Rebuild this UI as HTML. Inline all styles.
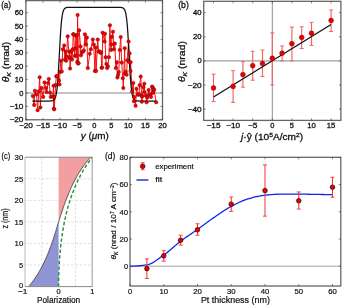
<!DOCTYPE html>
<html><head><meta charset="utf-8"><style>
html,body{margin:0;padding:0;background:#fff;}
body{width:342px;height:305px;overflow:hidden;}
svg{display:block;font-family:"Liberation Sans", sans-serif;will-change:transform;}
text{stroke:#111;stroke-width:0.28px;}
.cd text{stroke-width:0.2px;}
</style></head><body>
<svg width="342" height="305" viewBox="0 0 342 305">
<rect width="342" height="305" fill="#fff"/>
<line x1="25.9" y1="93" x2="162.5" y2="93" stroke="#8a8a8a" stroke-width="1.1"/>
<path d="M32.8,95.95 L34.2,105.05 L34.92,90.72 L36.49,94.47 L37.61,110.14 L38.88,91.26 L39.7,77.2 L40.41,107.46 L41.4,87.91 L43.21,96.88 L44.51,82.42 L45.91,87.91 L46.59,92.06 L48.1,83.09 L48.78,78.94 L50.15,92.73 L50.83,96.88 L52.88,96.21 L53.56,85.77 L53.9,108.67 L53.9,97.15 L54.24,109.34 L55.61,84.97 L56.29,76.26 L56.98,76.13 L59.03,80.55 L59.5,84.43 L59.88,72.11 L60.9,60.73 L61.76,71.58 L62.78,49.35 L64.22,45.47 L64.83,59.79 L65.86,51.49 L66.2,60.73 L66.54,56.45 L67.7,36.36 L69.27,57.92 L69.61,51.49 L69.71,57.25 L70.09,68.5 L71.32,51.49 L72,59.52 L72.69,49.35 L73.2,34.35 L73.71,34.35 L74.73,56.04 L75.21,48.55 L76,35.69 L76.44,55.51 L77.12,34.75 L77.19,61.94 L77.6,14.94 L78.01,63.54 L78.59,63.14 L79.17,30.33 L80.54,46.54 L80.98,55.37 L81.91,52.03 L82.93,51.76 L83.89,50.42 L84.91,34.35 L85.9,44.53 L86.89,37.57 L87.81,68.09 L89.76,53.77 L90.82,49.35 L92.8,39.57 L93.72,44.53 L94.88,71.04 L95.7,47.47 L96.11,71.04 L97.72,39.57 L98.64,51.49 L99.66,51.49 L100.59,52.83 L101.2,52.43 L101.61,67.83 L102.19,67.56 L102.6,32.75 L104.62,41.58 L104.99,33.68 L105.61,57.25 L106.39,63.94 L107.11,68.09 L107.86,66.35 L108.88,57.25 L109.91,25.25 L110.9,50.02 L111.51,44.53 L111.89,36.76 L112.91,31.67 L113.8,49.35 L114.83,43.46 L115.82,68.09 L116.81,62.2 L117.42,77.6 L118.1,75.06 L118.79,72.11 L119.71,50.02 L120.7,37.03 L121.69,62.6 L122.72,78.27 L123.3,88.05 L124.7,48.14 L124.94,73.72 L125.69,71.71 L126.64,74.66 L127.19,60.33 L128.59,41.58 L129.2,61.94 L129.61,53.37 L130.5,71.04 L130.6,62.2 L132.11,91.39 L133.23,82.96 L133.92,101.17 L134.16,96.88 L135.59,105.85 L136.48,88.72 L137.91,94.87 L139,94.21 L139.69,85.23 L140.71,76.53 L141.67,96.35 L141.81,101.7 L142.49,96.21 L143.38,87.24 L144.3,83.76 L144.47,92.06 L145.9,95.54 L146.59,102.37 L147.3,97.55 L148.67,90.05 L149.39,94.87 L150.55,94.34 L151.09,96.88 L152.08,86.57 L152.6,87.38 L152.8,92.87 L153.48,88.72 L154.2,90.05 L156.18,102.24" fill="none" stroke="#f80808" stroke-width="0.95"/>
<path d="M32.39,101.03 L32.54,101.03 L32.7,101.03 L32.85,101.03 L33.01,101.03 L33.16,101.03 L33.32,101.03 L33.47,101.03 L33.62,101.03 L33.78,101.03 L33.93,101.03 L34.09,101.03 L34.24,101.03 L34.4,101.03 L34.55,101.03 L34.71,101.03 L34.86,101.03 L35.02,101.03 L35.17,101.03 L35.32,101.03 L35.48,101.03 L35.63,101.03 L35.79,101.03 L35.94,101.03 L36.1,101.03 L36.25,101.03 L36.41,101.03 L36.56,101.03 L36.72,101.03 L36.87,101.03 L37.02,101.03 L37.18,101.03 L37.33,101.03 L37.49,101.03 L37.64,101.03 L37.8,101.03 L37.95,101.03 L38.11,101.03 L38.26,101.03 L38.42,101.03 L38.57,101.03 L38.72,101.03 L38.88,101.03 L39.03,101.03 L39.19,101.03 L39.34,101.03 L39.5,101.03 L39.65,101.03 L39.81,101.03 L39.96,101.03 L40.11,101.03 L40.27,101.03 L40.42,101.03 L40.58,101.03 L40.73,101.03 L40.89,101.03 L41.04,101.03 L41.2,101.03 L41.35,101.03 L41.51,101.03 L41.66,101.03 L41.81,101.03 L41.97,101.03 L42.12,101.03 L42.28,101.03 L42.43,101.03 L42.59,101.03 L42.74,101.03 L42.9,101.03 L43.05,101.03 L43.21,101.03 L43.36,101.03 L43.51,101.03 L43.67,101.03 L43.82,101.03 L43.98,101.03 L44.13,101.03 L44.29,101.03 L44.44,101.03 L44.6,101.03 L44.75,101.03 L44.91,101.03 L45.06,101.03 L45.21,101.03 L45.37,101.03 L45.52,101.03 L45.68,101.03 L45.83,101.03 L45.99,101.03 L46.14,101.03 L46.3,101.03 L46.45,101.03 L46.61,101.03 L46.76,101.03 L46.91,101.03 L47.07,101.03 L47.22,101.03 L47.38,101.03 L47.53,101.03 L47.69,101.03 L47.84,101.03 L48,101.02 L48.15,101.02 L48.3,101.02 L48.46,101.02 L48.61,101.02 L48.77,101.02 L48.92,101.01 L49.08,101.01 L49.23,101.01 L49.39,101.01 L49.54,101 L49.7,101 L49.85,100.99 L50,100.99 L50.16,100.98 L50.31,100.97 L50.47,100.97 L50.62,100.96 L50.78,100.95 L50.93,100.94 L51.09,100.92 L51.24,100.91 L51.4,100.89 L51.55,100.87 L51.7,100.85 L51.86,100.83 L52.01,100.8 L52.17,100.77 L52.32,100.73 L52.48,100.69 L52.63,100.64 L52.79,100.59 L52.94,100.53 L53.1,100.47 L53.25,100.39 L53.4,100.31 L53.56,100.21 L53.71,100.1 L53.87,99.98 L54.02,99.84 L54.18,99.68 L54.33,99.5 L54.49,99.3 L54.64,99.07 L54.8,98.81 L54.95,98.52 L55.1,98.2 L55.26,97.83 L55.41,97.42 L55.57,96.96 L55.72,96.44 L55.88,95.85 L56.03,95.2 L56.19,94.48 L56.34,93.67 L56.49,92.77 L56.65,91.77 L56.8,90.67 L56.96,89.45 L57.11,88.11 L57.27,86.65 L57.42,85.05 L57.58,83.32 L57.73,81.44 L57.89,79.42 L58.04,77.26 L58.19,74.96 L58.35,72.53 L58.5,69.98 L58.66,67.31 L58.81,64.55 L58.97,61.72 L59.12,58.82 L59.28,55.89 L59.43,52.95 L59.59,50.01 L59.74,47.11 L59.89,44.26 L60.05,41.49 L60.2,38.81 L60.36,36.24 L60.51,33.79 L60.67,31.46 L60.82,29.28 L60.98,27.24 L61.13,25.33 L61.29,23.57 L61.44,21.95 L61.59,20.47 L61.75,19.11 L61.9,17.87 L62.06,16.75 L62.21,15.73 L62.37,14.82 L62.52,13.99 L62.68,13.25 L62.83,12.59 L62.99,12 L63.14,11.47 L63.29,10.99 L63.45,10.57 L63.6,10.2 L63.76,9.87 L63.91,9.57 L64.07,9.31 L64.22,9.08 L64.38,8.87 L64.53,8.69 L64.69,8.53 L64.84,8.38 L64.99,8.26 L65.15,8.15 L65.3,8.05 L65.46,7.96 L65.61,7.88 L65.77,7.82 L65.92,7.76 L66.08,7.7 L66.23,7.66 L66.38,7.61 L66.54,7.58 L66.69,7.55 L66.85,7.52 L67,7.49 L67.16,7.47 L67.31,7.45 L67.47,7.43 L67.62,7.42 L67.78,7.4 L67.93,7.39 L68.08,7.38 L68.24,7.37 L68.39,7.36 L68.55,7.36 L68.7,7.35 L68.86,7.35 L69.01,7.34 L69.17,7.34 L69.32,7.33 L69.48,7.33 L69.63,7.33 L69.78,7.32 L69.94,7.32 L70.09,7.32 L70.25,7.32 L70.4,7.32 L70.56,7.31 L70.71,7.31 L70.87,7.31 L71.02,7.31 L71.18,7.31 L71.33,7.31 L71.48,7.31 L71.64,7.31 L71.79,7.31 L71.95,7.31 L72.1,7.31 L72.26,7.31 L72.41,7.31 L72.57,7.31 L72.72,7.31 L72.88,7.31 L73.03,7.31 L73.18,7.31 L73.34,7.31 L73.49,7.3 L73.65,7.3 L73.8,7.3 L73.96,7.3 L74.11,7.3 L74.27,7.3 L74.42,7.3 L74.57,7.3 L74.73,7.3 L74.88,7.3 L75.04,7.3 L75.19,7.3 L75.35,7.3 L75.5,7.3 L75.66,7.3 L75.81,7.3 L75.97,7.3 L76.12,7.3 L76.27,7.3 L76.43,7.3 L76.58,7.3 L76.74,7.3 L76.89,7.3 L77.05,7.3 L77.2,7.3 L77.36,7.3 L77.51,7.3 L77.67,7.3 L77.82,7.3 L77.97,7.3 L78.13,7.3 L78.28,7.3 L78.44,7.3 L78.59,7.3 L78.75,7.3 L78.9,7.3 L79.06,7.3 L79.21,7.3 L79.37,7.3 L79.52,7.3 L79.67,7.3 L79.83,7.3 L79.98,7.3 L80.14,7.3 L80.29,7.3 L80.45,7.3 L80.6,7.3 L80.76,7.3 L80.91,7.3 L81.07,7.3 L81.22,7.3 L81.37,7.3 L81.53,7.3 L81.68,7.3 L81.84,7.3 L81.99,7.3 L82.15,7.3 L82.3,7.3 L82.46,7.3 L82.61,7.3 L82.76,7.3 L82.92,7.3 L83.07,7.3 L83.23,7.3 L83.38,7.3 L83.54,7.3 L83.69,7.3 L83.85,7.3 L84,7.3 L84.16,7.3 L84.31,7.3 L84.46,7.3 L84.62,7.3 L84.77,7.3 L84.93,7.3 L85.08,7.3 L85.24,7.3 L85.39,7.3 L85.55,7.3 L85.7,7.3 L85.86,7.3 L86.01,7.3 L86.16,7.3 L86.32,7.3 L86.47,7.3 L86.63,7.3 L86.78,7.3 L86.94,7.3 L87.09,7.3 L87.25,7.3 L87.4,7.3 L87.56,7.3 L87.71,7.3 L87.86,7.3 L88.02,7.3 L88.17,7.3 L88.33,7.3 L88.48,7.3 L88.64,7.3 L88.79,7.3 L88.95,7.3 L89.1,7.3 L89.26,7.3 L89.41,7.3 L89.56,7.3 L89.72,7.3 L89.87,7.3 L90.03,7.3 L90.18,7.3 L90.34,7.3 L90.49,7.3 L90.65,7.3 L90.8,7.3 L90.95,7.3 L91.11,7.3 L91.26,7.3 L91.42,7.3 L91.57,7.3 L91.73,7.3 L91.88,7.3 L92.04,7.3 L92.19,7.3 L92.35,7.3 L92.5,7.3 L92.65,7.3 L92.81,7.3 L92.96,7.3 L93.12,7.3 L93.27,7.3 L93.43,7.3 L93.58,7.3 L93.74,7.3 L93.89,7.3 L94.05,7.3 L94.2,7.3 L94.35,7.3 L94.51,7.3 L94.66,7.3 L94.82,7.3 L94.97,7.3 L95.13,7.3 L95.28,7.3 L95.44,7.3 L95.59,7.3 L95.75,7.3 L95.9,7.3 L96.05,7.3 L96.21,7.3 L96.36,7.3 L96.52,7.3 L96.67,7.3 L96.83,7.3 L96.98,7.3 L97.14,7.3 L97.29,7.3 L97.45,7.3 L97.6,7.3 L97.75,7.3 L97.91,7.3 L98.06,7.3 L98.22,7.3 L98.37,7.3 L98.53,7.3 L98.68,7.3 L98.84,7.3 L98.99,7.3 L99.14,7.3 L99.3,7.3 L99.45,7.3 L99.61,7.3 L99.76,7.3 L99.92,7.3 L100.07,7.3 L100.23,7.3 L100.38,7.3 L100.54,7.3 L100.69,7.3 L100.84,7.3 L101,7.3 L101.15,7.3 L101.31,7.3 L101.46,7.3 L101.62,7.3 L101.77,7.3 L101.93,7.3 L102.08,7.3 L102.24,7.3 L102.39,7.3 L102.54,7.3 L102.7,7.3 L102.85,7.3 L103.01,7.3 L103.16,7.3 L103.32,7.3 L103.47,7.3 L103.63,7.3 L103.78,7.3 L103.94,7.3 L104.09,7.3 L104.24,7.3 L104.4,7.3 L104.55,7.3 L104.71,7.3 L104.86,7.3 L105.02,7.3 L105.17,7.3 L105.33,7.3 L105.48,7.3 L105.64,7.3 L105.79,7.3 L105.94,7.3 L106.1,7.3 L106.25,7.3 L106.41,7.3 L106.56,7.3 L106.72,7.3 L106.87,7.3 L107.03,7.3 L107.18,7.3 L107.33,7.3 L107.49,7.3 L107.64,7.3 L107.8,7.3 L107.95,7.3 L108.11,7.3 L108.26,7.3 L108.42,7.3 L108.57,7.3 L108.73,7.3 L108.88,7.3 L109.03,7.3 L109.19,7.3 L109.34,7.3 L109.5,7.3 L109.65,7.3 L109.81,7.3 L109.96,7.3 L110.12,7.3 L110.27,7.3 L110.43,7.3 L110.58,7.3 L110.73,7.3 L110.89,7.3 L111.04,7.3 L111.2,7.3 L111.35,7.3 L111.51,7.3 L111.66,7.3 L111.82,7.3 L111.97,7.3 L112.13,7.3 L112.28,7.3 L112.43,7.3 L112.59,7.3 L112.74,7.3 L112.9,7.3 L113.05,7.3 L113.21,7.3 L113.36,7.3 L113.52,7.3 L113.67,7.3 L113.83,7.3 L113.98,7.3 L114.13,7.3 L114.29,7.3 L114.44,7.3 L114.6,7.3 L114.75,7.3 L114.91,7.3 L115.06,7.31 L115.22,7.31 L115.37,7.31 L115.52,7.31 L115.68,7.31 L115.83,7.31 L115.99,7.31 L116.14,7.31 L116.3,7.31 L116.45,7.31 L116.61,7.31 L116.76,7.31 L116.92,7.31 L117.07,7.31 L117.22,7.31 L117.38,7.31 L117.53,7.31 L117.69,7.31 L117.84,7.31 L118,7.32 L118.15,7.32 L118.31,7.32 L118.46,7.32 L118.62,7.32 L118.77,7.33 L118.92,7.33 L119.08,7.33 L119.23,7.34 L119.39,7.34 L119.54,7.35 L119.7,7.35 L119.85,7.36 L120.01,7.36 L120.16,7.37 L120.32,7.38 L120.47,7.39 L120.62,7.4 L120.78,7.42 L120.93,7.43 L121.09,7.45 L121.24,7.47 L121.4,7.49 L121.55,7.52 L121.71,7.55 L121.86,7.58 L122.02,7.61 L122.17,7.66 L122.32,7.7 L122.48,7.76 L122.63,7.82 L122.79,7.88 L122.94,7.96 L123.1,8.05 L123.25,8.15 L123.41,8.26 L123.56,8.38 L123.71,8.53 L123.87,8.69 L124.02,8.87 L124.18,9.08 L124.33,9.31 L124.49,9.57 L124.64,9.87 L124.8,10.2 L124.95,10.57 L125.11,10.99 L125.26,11.47 L125.41,12 L125.57,12.59 L125.72,13.25 L125.88,13.99 L126.03,14.82 L126.19,15.73 L126.34,16.75 L126.5,17.87 L126.65,19.11 L126.81,20.47 L126.96,21.95 L127.11,23.57 L127.27,25.33 L127.42,27.24 L127.58,29.28 L127.73,31.46 L127.89,33.79 L128.04,36.24 L128.2,38.81 L128.35,41.49 L128.51,44.26 L128.66,47.11 L128.81,50.01 L128.97,52.95 L129.12,55.89 L129.28,58.82 L129.43,61.72 L129.59,64.55 L129.74,67.31 L129.9,69.98 L130.05,72.53 L130.21,74.96 L130.36,77.26 L130.51,79.42 L130.67,81.44 L130.82,83.32 L130.98,85.05 L131.13,86.65 L131.29,88.11 L131.44,89.45 L131.6,90.67 L131.75,91.77 L131.91,92.77 L132.06,93.67 L132.21,94.48 L132.37,95.2 L132.52,95.85 L132.68,96.44 L132.83,96.96 L132.99,97.42 L133.14,97.83 L133.3,98.2 L133.45,98.52 L133.6,98.81 L133.76,99.07 L133.91,99.3 L134.07,99.5 L134.22,99.68 L134.38,99.84 L134.53,99.98 L134.69,100.1 L134.84,100.21 L135,100.31 L135.15,100.39 L135.3,100.47 L135.46,100.53 L135.61,100.59 L135.77,100.64 L135.92,100.69 L136.08,100.73 L136.23,100.77 L136.39,100.8 L136.54,100.83 L136.7,100.85 L136.85,100.87 L137,100.89 L137.16,100.91 L137.31,100.92 L137.47,100.94 L137.62,100.95 L137.78,100.96 L137.93,100.97 L138.09,100.97 L138.24,100.98 L138.4,100.99 L138.55,100.99 L138.7,101 L138.86,101 L139.01,101.01 L139.17,101.01 L139.32,101.01 L139.48,101.01 L139.63,101.02 L139.79,101.02 L139.94,101.02 L140.1,101.02 L140.25,101.02 L140.4,101.02 L140.56,101.03 L140.71,101.03 L140.87,101.03 L141.02,101.03 L141.18,101.03 L141.33,101.03 L141.49,101.03 L141.64,101.03 L141.79,101.03 L141.95,101.03 L142.1,101.03 L142.26,101.03 L142.41,101.03 L142.57,101.03 L142.72,101.03 L142.88,101.03 L143.03,101.03 L143.19,101.03 L143.34,101.03 L143.49,101.03 L143.65,101.03 L143.8,101.03 L143.96,101.03 L144.11,101.03 L144.27,101.03 L144.42,101.03 L144.58,101.03 L144.73,101.03 L144.89,101.03 L145.04,101.03 L145.19,101.03 L145.35,101.03 L145.5,101.03 L145.66,101.03 L145.81,101.03 L145.97,101.03 L146.12,101.03 L146.28,101.03 L146.43,101.03 L146.59,101.03 L146.74,101.03 L146.89,101.03 L147.05,101.03 L147.2,101.03 L147.36,101.03 L147.51,101.03 L147.67,101.03 L147.82,101.03 L147.98,101.03 L148.13,101.03 L148.29,101.03 L148.44,101.03 L148.59,101.03 L148.75,101.03 L148.9,101.03 L149.06,101.03 L149.21,101.03 L149.37,101.03 L149.52,101.03 L149.68,101.03 L149.83,101.03 L149.98,101.03 L150.14,101.03 L150.29,101.03 L150.45,101.03 L150.6,101.03 L150.76,101.03 L150.91,101.03 L151.07,101.03 L151.22,101.03 L151.38,101.03 L151.53,101.03 L151.68,101.03 L151.84,101.03 L151.99,101.03 L152.15,101.03 L152.3,101.03 L152.46,101.03 L152.61,101.03 L152.77,101.03 L152.92,101.03 L153.08,101.03 L153.23,101.03 L153.38,101.03 L153.54,101.03 L153.69,101.03 L153.85,101.03 L154,101.03 L154.16,101.03 L154.31,101.03 L154.47,101.03 L154.62,101.03 L154.78,101.03 L154.93,101.03 L155.08,101.03 L155.24,101.03 L155.39,101.03 L155.55,101.03 L155.7,101.03 L155.86,101.03 L156.01,101.03" fill="none" stroke="#111" stroke-width="1.25"/>
<circle cx="32.8" cy="95.95" r="1.75" fill="#f50000" stroke="#600" stroke-width="0.4"/>
<circle cx="34.2" cy="105.05" r="1.75" fill="#f50000" stroke="#600" stroke-width="0.4"/>
<circle cx="34.92" cy="90.72" r="1.75" fill="#f50000" stroke="#600" stroke-width="0.4"/>
<circle cx="36.49" cy="94.47" r="1.75" fill="#f50000" stroke="#600" stroke-width="0.4"/>
<circle cx="37.61" cy="110.14" r="1.75" fill="#f50000" stroke="#600" stroke-width="0.4"/>
<circle cx="38.88" cy="91.26" r="1.75" fill="#f50000" stroke="#600" stroke-width="0.4"/>
<circle cx="39.7" cy="77.2" r="1.75" fill="#f50000" stroke="#600" stroke-width="0.4"/>
<circle cx="40.41" cy="107.46" r="1.75" fill="#f50000" stroke="#600" stroke-width="0.4"/>
<circle cx="41.4" cy="87.91" r="1.75" fill="#f50000" stroke="#600" stroke-width="0.4"/>
<circle cx="43.21" cy="96.88" r="1.75" fill="#f50000" stroke="#600" stroke-width="0.4"/>
<circle cx="44.51" cy="82.42" r="1.75" fill="#f50000" stroke="#600" stroke-width="0.4"/>
<circle cx="45.91" cy="87.91" r="1.75" fill="#f50000" stroke="#600" stroke-width="0.4"/>
<circle cx="46.59" cy="92.06" r="1.75" fill="#f50000" stroke="#600" stroke-width="0.4"/>
<circle cx="48.1" cy="83.09" r="1.75" fill="#f50000" stroke="#600" stroke-width="0.4"/>
<circle cx="48.78" cy="78.94" r="1.75" fill="#f50000" stroke="#600" stroke-width="0.4"/>
<circle cx="50.15" cy="92.73" r="1.75" fill="#f50000" stroke="#600" stroke-width="0.4"/>
<circle cx="50.83" cy="96.88" r="1.75" fill="#f50000" stroke="#600" stroke-width="0.4"/>
<circle cx="52.88" cy="96.21" r="1.75" fill="#f50000" stroke="#600" stroke-width="0.4"/>
<circle cx="53.56" cy="85.77" r="1.75" fill="#f50000" stroke="#600" stroke-width="0.4"/>
<circle cx="53.9" cy="108.67" r="1.75" fill="#f50000" stroke="#600" stroke-width="0.4"/>
<circle cx="53.9" cy="97.15" r="1.75" fill="#f50000" stroke="#600" stroke-width="0.4"/>
<circle cx="54.24" cy="109.34" r="1.75" fill="#f50000" stroke="#600" stroke-width="0.4"/>
<circle cx="55.61" cy="84.97" r="1.75" fill="#f50000" stroke="#600" stroke-width="0.4"/>
<circle cx="56.29" cy="76.26" r="1.75" fill="#f50000" stroke="#600" stroke-width="0.4"/>
<circle cx="56.98" cy="76.13" r="1.75" fill="#f50000" stroke="#600" stroke-width="0.4"/>
<circle cx="59.03" cy="80.55" r="1.75" fill="#f50000" stroke="#600" stroke-width="0.4"/>
<circle cx="59.5" cy="84.43" r="1.75" fill="#f50000" stroke="#600" stroke-width="0.4"/>
<circle cx="59.88" cy="72.11" r="1.75" fill="#f50000" stroke="#600" stroke-width="0.4"/>
<circle cx="60.9" cy="60.73" r="1.75" fill="#f50000" stroke="#600" stroke-width="0.4"/>
<circle cx="61.76" cy="71.58" r="1.75" fill="#f50000" stroke="#600" stroke-width="0.4"/>
<circle cx="62.78" cy="49.35" r="1.75" fill="#f50000" stroke="#600" stroke-width="0.4"/>
<circle cx="64.22" cy="45.47" r="1.75" fill="#f50000" stroke="#600" stroke-width="0.4"/>
<circle cx="64.83" cy="59.79" r="1.75" fill="#f50000" stroke="#600" stroke-width="0.4"/>
<circle cx="65.86" cy="51.49" r="1.75" fill="#f50000" stroke="#600" stroke-width="0.4"/>
<circle cx="66.2" cy="60.73" r="1.75" fill="#f50000" stroke="#600" stroke-width="0.4"/>
<circle cx="66.54" cy="56.45" r="1.75" fill="#f50000" stroke="#600" stroke-width="0.4"/>
<circle cx="67.7" cy="36.36" r="1.75" fill="#f50000" stroke="#600" stroke-width="0.4"/>
<circle cx="69.27" cy="57.92" r="1.75" fill="#f50000" stroke="#600" stroke-width="0.4"/>
<circle cx="69.61" cy="51.49" r="1.75" fill="#f50000" stroke="#600" stroke-width="0.4"/>
<circle cx="69.71" cy="57.25" r="1.75" fill="#f50000" stroke="#600" stroke-width="0.4"/>
<circle cx="70.09" cy="68.5" r="1.75" fill="#f50000" stroke="#600" stroke-width="0.4"/>
<circle cx="71.32" cy="51.49" r="1.75" fill="#f50000" stroke="#600" stroke-width="0.4"/>
<circle cx="72" cy="59.52" r="1.75" fill="#f50000" stroke="#600" stroke-width="0.4"/>
<circle cx="72.69" cy="49.35" r="1.75" fill="#f50000" stroke="#600" stroke-width="0.4"/>
<circle cx="73.2" cy="34.35" r="1.75" fill="#f50000" stroke="#600" stroke-width="0.4"/>
<circle cx="73.71" cy="34.35" r="1.75" fill="#f50000" stroke="#600" stroke-width="0.4"/>
<circle cx="74.73" cy="56.04" r="1.75" fill="#f50000" stroke="#600" stroke-width="0.4"/>
<circle cx="75.21" cy="48.55" r="1.75" fill="#f50000" stroke="#600" stroke-width="0.4"/>
<circle cx="76" cy="35.69" r="1.75" fill="#f50000" stroke="#600" stroke-width="0.4"/>
<circle cx="76.44" cy="55.51" r="1.75" fill="#f50000" stroke="#600" stroke-width="0.4"/>
<circle cx="77.12" cy="34.75" r="1.75" fill="#f50000" stroke="#600" stroke-width="0.4"/>
<circle cx="77.19" cy="61.94" r="1.75" fill="#f50000" stroke="#600" stroke-width="0.4"/>
<circle cx="77.6" cy="14.94" r="1.75" fill="#f50000" stroke="#600" stroke-width="0.4"/>
<circle cx="78.01" cy="63.54" r="1.75" fill="#f50000" stroke="#600" stroke-width="0.4"/>
<circle cx="78.59" cy="63.14" r="1.75" fill="#f50000" stroke="#600" stroke-width="0.4"/>
<circle cx="79.17" cy="30.33" r="1.75" fill="#f50000" stroke="#600" stroke-width="0.4"/>
<circle cx="80.54" cy="46.54" r="1.75" fill="#f50000" stroke="#600" stroke-width="0.4"/>
<circle cx="80.98" cy="55.37" r="1.75" fill="#f50000" stroke="#600" stroke-width="0.4"/>
<circle cx="81.91" cy="52.03" r="1.75" fill="#f50000" stroke="#600" stroke-width="0.4"/>
<circle cx="82.93" cy="51.76" r="1.75" fill="#f50000" stroke="#600" stroke-width="0.4"/>
<circle cx="83.89" cy="50.42" r="1.75" fill="#f50000" stroke="#600" stroke-width="0.4"/>
<circle cx="84.91" cy="34.35" r="1.75" fill="#f50000" stroke="#600" stroke-width="0.4"/>
<circle cx="85.9" cy="44.53" r="1.75" fill="#f50000" stroke="#600" stroke-width="0.4"/>
<circle cx="86.89" cy="37.57" r="1.75" fill="#f50000" stroke="#600" stroke-width="0.4"/>
<circle cx="87.81" cy="68.09" r="1.75" fill="#f50000" stroke="#600" stroke-width="0.4"/>
<circle cx="89.76" cy="53.77" r="1.75" fill="#f50000" stroke="#600" stroke-width="0.4"/>
<circle cx="90.82" cy="49.35" r="1.75" fill="#f50000" stroke="#600" stroke-width="0.4"/>
<circle cx="92.8" cy="39.57" r="1.75" fill="#f50000" stroke="#600" stroke-width="0.4"/>
<circle cx="93.72" cy="44.53" r="1.75" fill="#f50000" stroke="#600" stroke-width="0.4"/>
<circle cx="94.88" cy="71.04" r="1.75" fill="#f50000" stroke="#600" stroke-width="0.4"/>
<circle cx="95.7" cy="47.47" r="1.75" fill="#f50000" stroke="#600" stroke-width="0.4"/>
<circle cx="96.11" cy="71.04" r="1.75" fill="#f50000" stroke="#600" stroke-width="0.4"/>
<circle cx="97.72" cy="39.57" r="1.75" fill="#f50000" stroke="#600" stroke-width="0.4"/>
<circle cx="98.64" cy="51.49" r="1.75" fill="#f50000" stroke="#600" stroke-width="0.4"/>
<circle cx="99.66" cy="51.49" r="1.75" fill="#f50000" stroke="#600" stroke-width="0.4"/>
<circle cx="100.59" cy="52.83" r="1.75" fill="#f50000" stroke="#600" stroke-width="0.4"/>
<circle cx="101.2" cy="52.43" r="1.75" fill="#f50000" stroke="#600" stroke-width="0.4"/>
<circle cx="101.61" cy="67.83" r="1.75" fill="#f50000" stroke="#600" stroke-width="0.4"/>
<circle cx="102.19" cy="67.56" r="1.75" fill="#f50000" stroke="#600" stroke-width="0.4"/>
<circle cx="102.6" cy="32.75" r="1.75" fill="#f50000" stroke="#600" stroke-width="0.4"/>
<circle cx="104.62" cy="41.58" r="1.75" fill="#f50000" stroke="#600" stroke-width="0.4"/>
<circle cx="104.99" cy="33.68" r="1.75" fill="#f50000" stroke="#600" stroke-width="0.4"/>
<circle cx="105.61" cy="57.25" r="1.75" fill="#f50000" stroke="#600" stroke-width="0.4"/>
<circle cx="106.39" cy="63.94" r="1.75" fill="#f50000" stroke="#600" stroke-width="0.4"/>
<circle cx="107.11" cy="68.09" r="1.75" fill="#f50000" stroke="#600" stroke-width="0.4"/>
<circle cx="107.86" cy="66.35" r="1.75" fill="#f50000" stroke="#600" stroke-width="0.4"/>
<circle cx="108.88" cy="57.25" r="1.75" fill="#f50000" stroke="#600" stroke-width="0.4"/>
<circle cx="109.91" cy="25.25" r="1.75" fill="#f50000" stroke="#600" stroke-width="0.4"/>
<circle cx="110.9" cy="50.02" r="1.75" fill="#f50000" stroke="#600" stroke-width="0.4"/>
<circle cx="111.51" cy="44.53" r="1.75" fill="#f50000" stroke="#600" stroke-width="0.4"/>
<circle cx="111.89" cy="36.76" r="1.75" fill="#f50000" stroke="#600" stroke-width="0.4"/>
<circle cx="112.91" cy="31.67" r="1.75" fill="#f50000" stroke="#600" stroke-width="0.4"/>
<circle cx="113.8" cy="49.35" r="1.75" fill="#f50000" stroke="#600" stroke-width="0.4"/>
<circle cx="114.83" cy="43.46" r="1.75" fill="#f50000" stroke="#600" stroke-width="0.4"/>
<circle cx="115.82" cy="68.09" r="1.75" fill="#f50000" stroke="#600" stroke-width="0.4"/>
<circle cx="116.81" cy="62.2" r="1.75" fill="#f50000" stroke="#600" stroke-width="0.4"/>
<circle cx="117.42" cy="77.6" r="1.75" fill="#f50000" stroke="#600" stroke-width="0.4"/>
<circle cx="118.1" cy="75.06" r="1.75" fill="#f50000" stroke="#600" stroke-width="0.4"/>
<circle cx="118.79" cy="72.11" r="1.75" fill="#f50000" stroke="#600" stroke-width="0.4"/>
<circle cx="119.71" cy="50.02" r="1.75" fill="#f50000" stroke="#600" stroke-width="0.4"/>
<circle cx="120.7" cy="37.03" r="1.75" fill="#f50000" stroke="#600" stroke-width="0.4"/>
<circle cx="121.69" cy="62.6" r="1.75" fill="#f50000" stroke="#600" stroke-width="0.4"/>
<circle cx="122.72" cy="78.27" r="1.75" fill="#f50000" stroke="#600" stroke-width="0.4"/>
<circle cx="123.3" cy="88.05" r="1.75" fill="#f50000" stroke="#600" stroke-width="0.4"/>
<circle cx="124.7" cy="48.14" r="1.75" fill="#f50000" stroke="#600" stroke-width="0.4"/>
<circle cx="124.94" cy="73.72" r="1.75" fill="#f50000" stroke="#600" stroke-width="0.4"/>
<circle cx="125.69" cy="71.71" r="1.75" fill="#f50000" stroke="#600" stroke-width="0.4"/>
<circle cx="126.64" cy="74.66" r="1.75" fill="#f50000" stroke="#600" stroke-width="0.4"/>
<circle cx="127.19" cy="60.33" r="1.75" fill="#f50000" stroke="#600" stroke-width="0.4"/>
<circle cx="128.59" cy="41.58" r="1.75" fill="#f50000" stroke="#600" stroke-width="0.4"/>
<circle cx="129.2" cy="61.94" r="1.75" fill="#f50000" stroke="#600" stroke-width="0.4"/>
<circle cx="129.61" cy="53.37" r="1.75" fill="#f50000" stroke="#600" stroke-width="0.4"/>
<circle cx="130.5" cy="71.04" r="1.75" fill="#f50000" stroke="#600" stroke-width="0.4"/>
<circle cx="130.6" cy="62.2" r="1.75" fill="#f50000" stroke="#600" stroke-width="0.4"/>
<circle cx="132.11" cy="91.39" r="1.75" fill="#f50000" stroke="#600" stroke-width="0.4"/>
<circle cx="133.23" cy="82.96" r="1.75" fill="#f50000" stroke="#600" stroke-width="0.4"/>
<circle cx="133.92" cy="101.17" r="1.75" fill="#f50000" stroke="#600" stroke-width="0.4"/>
<circle cx="134.16" cy="96.88" r="1.75" fill="#f50000" stroke="#600" stroke-width="0.4"/>
<circle cx="135.59" cy="105.85" r="1.75" fill="#f50000" stroke="#600" stroke-width="0.4"/>
<circle cx="136.48" cy="88.72" r="1.75" fill="#f50000" stroke="#600" stroke-width="0.4"/>
<circle cx="137.91" cy="94.87" r="1.75" fill="#f50000" stroke="#600" stroke-width="0.4"/>
<circle cx="139" cy="94.21" r="1.75" fill="#f50000" stroke="#600" stroke-width="0.4"/>
<circle cx="139.69" cy="85.23" r="1.75" fill="#f50000" stroke="#600" stroke-width="0.4"/>
<circle cx="140.71" cy="76.53" r="1.75" fill="#f50000" stroke="#600" stroke-width="0.4"/>
<circle cx="141.67" cy="96.35" r="1.75" fill="#f50000" stroke="#600" stroke-width="0.4"/>
<circle cx="141.81" cy="101.7" r="1.75" fill="#f50000" stroke="#600" stroke-width="0.4"/>
<circle cx="142.49" cy="96.21" r="1.75" fill="#f50000" stroke="#600" stroke-width="0.4"/>
<circle cx="143.38" cy="87.24" r="1.75" fill="#f50000" stroke="#600" stroke-width="0.4"/>
<circle cx="144.3" cy="83.76" r="1.75" fill="#f50000" stroke="#600" stroke-width="0.4"/>
<circle cx="144.47" cy="92.06" r="1.75" fill="#f50000" stroke="#600" stroke-width="0.4"/>
<circle cx="145.9" cy="95.54" r="1.75" fill="#f50000" stroke="#600" stroke-width="0.4"/>
<circle cx="146.59" cy="102.37" r="1.75" fill="#f50000" stroke="#600" stroke-width="0.4"/>
<circle cx="147.3" cy="97.55" r="1.75" fill="#f50000" stroke="#600" stroke-width="0.4"/>
<circle cx="148.67" cy="90.05" r="1.75" fill="#f50000" stroke="#600" stroke-width="0.4"/>
<circle cx="149.39" cy="94.87" r="1.75" fill="#f50000" stroke="#600" stroke-width="0.4"/>
<circle cx="150.55" cy="94.34" r="1.75" fill="#f50000" stroke="#600" stroke-width="0.4"/>
<circle cx="151.09" cy="96.88" r="1.75" fill="#f50000" stroke="#600" stroke-width="0.4"/>
<circle cx="152.08" cy="86.57" r="1.75" fill="#f50000" stroke="#600" stroke-width="0.4"/>
<circle cx="152.6" cy="87.38" r="1.75" fill="#f50000" stroke="#600" stroke-width="0.4"/>
<circle cx="152.8" cy="92.87" r="1.75" fill="#f50000" stroke="#600" stroke-width="0.4"/>
<circle cx="153.48" cy="88.72" r="1.75" fill="#f50000" stroke="#600" stroke-width="0.4"/>
<circle cx="154.2" cy="90.05" r="1.75" fill="#f50000" stroke="#600" stroke-width="0.4"/>
<circle cx="156.18" cy="102.24" r="1.75" fill="#f50000" stroke="#600" stroke-width="0.4"/>
<rect x="25.9" y="0.6" width="136.6" height="119.18" fill="none" stroke="#666" stroke-width="1.3"/>
<line x1="25.9" y1="119.78" x2="25.9" y2="117.78" stroke="#333" stroke-width="0.6"/>
<line x1="25.9" y1="0.6" x2="25.9" y2="2.6" stroke="#333" stroke-width="0.6"/>
<text x="25.9" y="127.7" font-size="7" text-anchor="middle" fill="#111"  textLength="14" lengthAdjust="spacingAndGlyphs">&#8722;20</text>
<line x1="42.97" y1="119.78" x2="42.97" y2="117.78" stroke="#333" stroke-width="0.6"/>
<line x1="42.97" y1="0.6" x2="42.97" y2="2.6" stroke="#333" stroke-width="0.6"/>
<text x="42.97" y="127.7" font-size="7" text-anchor="middle" fill="#111"  textLength="14" lengthAdjust="spacingAndGlyphs">&#8722;15</text>
<line x1="60.05" y1="119.78" x2="60.05" y2="117.78" stroke="#333" stroke-width="0.6"/>
<line x1="60.05" y1="0.6" x2="60.05" y2="2.6" stroke="#333" stroke-width="0.6"/>
<text x="60.05" y="127.7" font-size="7" text-anchor="middle" fill="#111"  textLength="14" lengthAdjust="spacingAndGlyphs">&#8722;10</text>
<line x1="77.12" y1="119.78" x2="77.12" y2="117.78" stroke="#333" stroke-width="0.6"/>
<line x1="77.12" y1="0.6" x2="77.12" y2="2.6" stroke="#333" stroke-width="0.6"/>
<text x="77.12" y="127.7" font-size="7" text-anchor="middle" fill="#111"  textLength="9.55" lengthAdjust="spacingAndGlyphs">&#8722;5</text>
<line x1="94.2" y1="119.78" x2="94.2" y2="117.78" stroke="#333" stroke-width="0.6"/>
<line x1="94.2" y1="0.6" x2="94.2" y2="2.6" stroke="#333" stroke-width="0.6"/>
<text x="94.2" y="127.7" font-size="7" text-anchor="middle" fill="#111"  textLength="4.15" lengthAdjust="spacingAndGlyphs">0</text>
<line x1="111.28" y1="119.78" x2="111.28" y2="117.78" stroke="#333" stroke-width="0.6"/>
<line x1="111.28" y1="0.6" x2="111.28" y2="2.6" stroke="#333" stroke-width="0.6"/>
<text x="111.28" y="127.7" font-size="7" text-anchor="middle" fill="#111"  textLength="4.15" lengthAdjust="spacingAndGlyphs">5</text>
<line x1="128.35" y1="119.78" x2="128.35" y2="117.78" stroke="#333" stroke-width="0.6"/>
<line x1="128.35" y1="0.6" x2="128.35" y2="2.6" stroke="#333" stroke-width="0.6"/>
<text x="128.35" y="127.7" font-size="7" text-anchor="middle" fill="#111"  textLength="8.6" lengthAdjust="spacingAndGlyphs">10</text>
<line x1="145.43" y1="119.78" x2="145.43" y2="117.78" stroke="#333" stroke-width="0.6"/>
<line x1="145.43" y1="0.6" x2="145.43" y2="2.6" stroke="#333" stroke-width="0.6"/>
<text x="145.43" y="127.7" font-size="7" text-anchor="middle" fill="#111"  textLength="8.6" lengthAdjust="spacingAndGlyphs">15</text>
<line x1="162.5" y1="119.78" x2="162.5" y2="117.78" stroke="#333" stroke-width="0.6"/>
<line x1="162.5" y1="0.6" x2="162.5" y2="2.6" stroke="#333" stroke-width="0.6"/>
<text x="162.5" y="127.7" font-size="7" text-anchor="middle" fill="#111"  textLength="8.6" lengthAdjust="spacingAndGlyphs">20</text>
<line x1="25.9" y1="119.78" x2="27.9" y2="119.78" stroke="#333" stroke-width="0.6"/>
<line x1="162.5" y1="119.78" x2="160.5" y2="119.78" stroke="#333" stroke-width="0.6"/>
<text x="23.4" y="122.28" font-size="7" text-anchor="end" fill="#111"  textLength="14" lengthAdjust="spacingAndGlyphs">&#8722;20</text>
<line x1="25.9" y1="106.39" x2="27.9" y2="106.39" stroke="#333" stroke-width="0.6"/>
<line x1="162.5" y1="106.39" x2="160.5" y2="106.39" stroke="#333" stroke-width="0.6"/>
<text x="23.4" y="108.89" font-size="7" text-anchor="end" fill="#111"  textLength="14" lengthAdjust="spacingAndGlyphs">&#8722;10</text>
<line x1="25.9" y1="93" x2="27.9" y2="93" stroke="#333" stroke-width="0.6"/>
<line x1="162.5" y1="93" x2="160.5" y2="93" stroke="#333" stroke-width="0.6"/>
<text x="23.4" y="95.5" font-size="7" text-anchor="end" fill="#111"  textLength="4.15" lengthAdjust="spacingAndGlyphs">0</text>
<line x1="25.9" y1="79.61" x2="27.9" y2="79.61" stroke="#333" stroke-width="0.6"/>
<line x1="162.5" y1="79.61" x2="160.5" y2="79.61" stroke="#333" stroke-width="0.6"/>
<text x="23.4" y="82.11" font-size="7" text-anchor="end" fill="#111"  textLength="8.6" lengthAdjust="spacingAndGlyphs">10</text>
<line x1="25.9" y1="66.22" x2="27.9" y2="66.22" stroke="#333" stroke-width="0.6"/>
<line x1="162.5" y1="66.22" x2="160.5" y2="66.22" stroke="#333" stroke-width="0.6"/>
<text x="23.4" y="68.72" font-size="7" text-anchor="end" fill="#111"  textLength="8.6" lengthAdjust="spacingAndGlyphs">20</text>
<line x1="25.9" y1="52.83" x2="27.9" y2="52.83" stroke="#333" stroke-width="0.6"/>
<line x1="162.5" y1="52.83" x2="160.5" y2="52.83" stroke="#333" stroke-width="0.6"/>
<text x="23.4" y="55.33" font-size="7" text-anchor="end" fill="#111"  textLength="8.6" lengthAdjust="spacingAndGlyphs">30</text>
<line x1="25.9" y1="39.44" x2="27.9" y2="39.44" stroke="#333" stroke-width="0.6"/>
<line x1="162.5" y1="39.44" x2="160.5" y2="39.44" stroke="#333" stroke-width="0.6"/>
<text x="23.4" y="41.94" font-size="7" text-anchor="end" fill="#111"  textLength="8.6" lengthAdjust="spacingAndGlyphs">40</text>
<line x1="25.9" y1="26.05" x2="27.9" y2="26.05" stroke="#333" stroke-width="0.6"/>
<line x1="162.5" y1="26.05" x2="160.5" y2="26.05" stroke="#333" stroke-width="0.6"/>
<text x="23.4" y="28.55" font-size="7" text-anchor="end" fill="#111"  textLength="8.6" lengthAdjust="spacingAndGlyphs">50</text>
<line x1="25.9" y1="12.66" x2="27.9" y2="12.66" stroke="#333" stroke-width="0.6"/>
<line x1="162.5" y1="12.66" x2="160.5" y2="12.66" stroke="#333" stroke-width="0.6"/>
<text x="23.4" y="15.16" font-size="7" text-anchor="end" fill="#111"  textLength="8.6" lengthAdjust="spacingAndGlyphs">60</text>
<text x="94.8" y="138.6" font-size="9" text-anchor="middle" fill="#111"  textLength="28" lengthAdjust="spacingAndGlyphs"><tspan font-style="italic">y</tspan> (<tspan font-style="italic">&#956;</tspan>m)</text>
<text transform="translate(8.8,62) rotate(-90)" font-size="9" text-anchor="middle" fill="#111" textLength="40.5" lengthAdjust="spacingAndGlyphs"><tspan font-style="italic">&#952;</tspan><tspan font-size="6" dy="1.8" font-style="italic">K</tspan><tspan dy="-1.8"> (nrad)</tspan></text>
<text x="6.1" y="8" font-size="8.5" text-anchor="middle" fill="#111"  textLength="9.9" lengthAdjust="spacingAndGlyphs">(a)</text>
<line x1="203.7" y1="60.9" x2="340.9" y2="60.9" stroke="#a0a0a0" stroke-width="1.1"/>
<line x1="272.3" y1="1.3" x2="272.3" y2="120.4" stroke="#909090" stroke-width="1.0"/>
<line x1="213.5" y1="101.63" x2="213.5" y2="74.16" stroke="#f06464" stroke-width="1.15"/>
<line x1="211.5" y1="101.63" x2="215.5" y2="101.63" stroke="#f06464" stroke-width="1.0"/>
<line x1="211.5" y1="74.16" x2="215.5" y2="74.16" stroke="#f06464" stroke-width="1.0"/>
<line x1="233.1" y1="102.35" x2="233.1" y2="70.66" stroke="#f06464" stroke-width="1.15"/>
<line x1="231.1" y1="102.35" x2="235.1" y2="102.35" stroke="#f06464" stroke-width="1.0"/>
<line x1="231.1" y1="70.66" x2="235.1" y2="70.66" stroke="#f06464" stroke-width="1.0"/>
<line x1="242.9" y1="87.17" x2="242.9" y2="61.74" stroke="#f06464" stroke-width="1.15"/>
<line x1="240.9" y1="87.17" x2="244.9" y2="87.17" stroke="#f06464" stroke-width="1.0"/>
<line x1="240.9" y1="61.74" x2="244.9" y2="61.74" stroke="#f06464" stroke-width="1.0"/>
<line x1="252.7" y1="80.18" x2="252.7" y2="51.26" stroke="#f06464" stroke-width="1.15"/>
<line x1="250.7" y1="80.18" x2="254.7" y2="80.18" stroke="#f06464" stroke-width="1.0"/>
<line x1="250.7" y1="51.26" x2="254.7" y2="51.26" stroke="#f06464" stroke-width="1.0"/>
<line x1="262.5" y1="76.56" x2="262.5" y2="50.05" stroke="#f06464" stroke-width="1.15"/>
<line x1="260.5" y1="76.56" x2="264.5" y2="76.56" stroke="#f06464" stroke-width="1.0"/>
<line x1="260.5" y1="50.05" x2="264.5" y2="50.05" stroke="#f06464" stroke-width="1.0"/>
<line x1="272.3" y1="84.88" x2="272.3" y2="32.82" stroke="#f06464" stroke-width="1.15"/>
<line x1="270.3" y1="84.88" x2="274.3" y2="84.88" stroke="#f06464" stroke-width="1.0"/>
<line x1="270.3" y1="32.82" x2="274.3" y2="32.82" stroke="#f06464" stroke-width="1.0"/>
<line x1="282.1" y1="60.9" x2="282.1" y2="45.96" stroke="#f06464" stroke-width="1.15"/>
<line x1="280.1" y1="60.9" x2="284.1" y2="60.9" stroke="#f06464" stroke-width="1.0"/>
<line x1="280.1" y1="45.96" x2="284.1" y2="45.96" stroke="#f06464" stroke-width="1.0"/>
<line x1="291.9" y1="60.9" x2="291.9" y2="27.16" stroke="#f06464" stroke-width="1.15"/>
<line x1="289.9" y1="60.9" x2="293.9" y2="60.9" stroke="#f06464" stroke-width="1.0"/>
<line x1="289.9" y1="27.16" x2="293.9" y2="27.16" stroke="#f06464" stroke-width="1.0"/>
<line x1="301.7" y1="48.49" x2="301.7" y2="26.8" stroke="#f06464" stroke-width="1.15"/>
<line x1="299.7" y1="48.49" x2="303.7" y2="48.49" stroke="#f06464" stroke-width="1.0"/>
<line x1="299.7" y1="26.8" x2="303.7" y2="26.8" stroke="#f06464" stroke-width="1.0"/>
<line x1="311.5" y1="45.36" x2="311.5" y2="22.34" stroke="#f06464" stroke-width="1.15"/>
<line x1="309.5" y1="45.36" x2="313.5" y2="45.36" stroke="#f06464" stroke-width="1.0"/>
<line x1="309.5" y1="22.34" x2="313.5" y2="22.34" stroke="#f06464" stroke-width="1.0"/>
<line x1="331.1" y1="31.5" x2="331.1" y2="9.93" stroke="#f06464" stroke-width="1.15"/>
<line x1="329.1" y1="31.5" x2="333.1" y2="31.5" stroke="#f06464" stroke-width="1.0"/>
<line x1="329.1" y1="9.93" x2="333.1" y2="9.93" stroke="#f06464" stroke-width="1.0"/>
<line x1="213.5" y1="96.93" x2="331.1" y2="24.51" stroke="#111" stroke-width="1.25"/>
<circle cx="213.5" cy="88.01" r="2.45" fill="#e80000" stroke="#800" stroke-width="0.45"/>
<circle cx="233.1" cy="86.45" r="2.45" fill="#e80000" stroke="#800" stroke-width="0.45"/>
<circle cx="242.9" cy="74.64" r="2.45" fill="#e80000" stroke="#800" stroke-width="0.45"/>
<circle cx="252.7" cy="65.72" r="2.45" fill="#e80000" stroke="#800" stroke-width="0.45"/>
<circle cx="262.5" cy="63.55" r="2.45" fill="#e80000" stroke="#800" stroke-width="0.45"/>
<circle cx="272.3" cy="58.25" r="2.45" fill="#e80000" stroke="#800" stroke-width="0.45"/>
<circle cx="282.1" cy="53.19" r="2.45" fill="#e80000" stroke="#800" stroke-width="0.45"/>
<circle cx="291.9" cy="43.79" r="2.45" fill="#e80000" stroke="#800" stroke-width="0.45"/>
<circle cx="301.7" cy="37.52" r="2.45" fill="#e80000" stroke="#800" stroke-width="0.45"/>
<circle cx="311.5" cy="33.31" r="2.45" fill="#e80000" stroke="#800" stroke-width="0.45"/>
<circle cx="331.1" cy="20.53" r="2.45" fill="#e80000" stroke="#800" stroke-width="0.45"/>
<rect x="203.7" y="1.3" width="137.2" height="119.1" fill="none" stroke="#666" stroke-width="1.3"/>
<line x1="213.5" y1="120.4" x2="213.5" y2="118.4" stroke="#333" stroke-width="0.6"/>
<line x1="213.5" y1="1.3" x2="213.5" y2="3.3" stroke="#333" stroke-width="0.6"/>
<text x="213.5" y="127.8" font-size="7" text-anchor="middle" fill="#111"  textLength="14" lengthAdjust="spacingAndGlyphs">&#8722;15</text>
<line x1="233.1" y1="120.4" x2="233.1" y2="118.4" stroke="#333" stroke-width="0.6"/>
<line x1="233.1" y1="1.3" x2="233.1" y2="3.3" stroke="#333" stroke-width="0.6"/>
<text x="233.1" y="127.8" font-size="7" text-anchor="middle" fill="#111"  textLength="14" lengthAdjust="spacingAndGlyphs">&#8722;10</text>
<line x1="252.7" y1="120.4" x2="252.7" y2="118.4" stroke="#333" stroke-width="0.6"/>
<line x1="252.7" y1="1.3" x2="252.7" y2="3.3" stroke="#333" stroke-width="0.6"/>
<text x="252.7" y="127.8" font-size="7" text-anchor="middle" fill="#111"  textLength="9.55" lengthAdjust="spacingAndGlyphs">&#8722;5</text>
<line x1="272.3" y1="120.4" x2="272.3" y2="118.4" stroke="#333" stroke-width="0.6"/>
<line x1="272.3" y1="1.3" x2="272.3" y2="3.3" stroke="#333" stroke-width="0.6"/>
<text x="272.3" y="127.8" font-size="7" text-anchor="middle" fill="#111"  textLength="4.15" lengthAdjust="spacingAndGlyphs">0</text>
<line x1="291.9" y1="120.4" x2="291.9" y2="118.4" stroke="#333" stroke-width="0.6"/>
<line x1="291.9" y1="1.3" x2="291.9" y2="3.3" stroke="#333" stroke-width="0.6"/>
<text x="291.9" y="127.8" font-size="7" text-anchor="middle" fill="#111"  textLength="4.15" lengthAdjust="spacingAndGlyphs">5</text>
<line x1="311.5" y1="120.4" x2="311.5" y2="118.4" stroke="#333" stroke-width="0.6"/>
<line x1="311.5" y1="1.3" x2="311.5" y2="3.3" stroke="#333" stroke-width="0.6"/>
<text x="311.5" y="127.8" font-size="7" text-anchor="middle" fill="#111"  textLength="8.6" lengthAdjust="spacingAndGlyphs">10</text>
<line x1="331.1" y1="120.4" x2="331.1" y2="118.4" stroke="#333" stroke-width="0.6"/>
<line x1="331.1" y1="1.3" x2="331.1" y2="3.3" stroke="#333" stroke-width="0.6"/>
<text x="331.1" y="127.8" font-size="7" text-anchor="middle" fill="#111"  textLength="8.6" lengthAdjust="spacingAndGlyphs">15</text>
<line x1="203.7" y1="109.1" x2="205.7" y2="109.1" stroke="#333" stroke-width="0.6"/>
<line x1="340.9" y1="109.1" x2="338.9" y2="109.1" stroke="#333" stroke-width="0.6"/>
<text x="201.6" y="111.6" font-size="7" text-anchor="end" fill="#111"  textLength="14" lengthAdjust="spacingAndGlyphs">&#8722;40</text>
<line x1="203.7" y1="85" x2="205.7" y2="85" stroke="#333" stroke-width="0.6"/>
<line x1="340.9" y1="85" x2="338.9" y2="85" stroke="#333" stroke-width="0.6"/>
<text x="201.6" y="87.5" font-size="7" text-anchor="end" fill="#111"  textLength="14" lengthAdjust="spacingAndGlyphs">&#8722;20</text>
<line x1="203.7" y1="60.9" x2="205.7" y2="60.9" stroke="#333" stroke-width="0.6"/>
<line x1="340.9" y1="60.9" x2="338.9" y2="60.9" stroke="#333" stroke-width="0.6"/>
<text x="201.6" y="63.4" font-size="7" text-anchor="end" fill="#111"  textLength="4.15" lengthAdjust="spacingAndGlyphs">0</text>
<line x1="203.7" y1="36.8" x2="205.7" y2="36.8" stroke="#333" stroke-width="0.6"/>
<line x1="340.9" y1="36.8" x2="338.9" y2="36.8" stroke="#333" stroke-width="0.6"/>
<text x="201.6" y="39.3" font-size="7" text-anchor="end" fill="#111"  textLength="8.6" lengthAdjust="spacingAndGlyphs">20</text>
<line x1="203.7" y1="12.7" x2="205.7" y2="12.7" stroke="#333" stroke-width="0.6"/>
<line x1="340.9" y1="12.7" x2="338.9" y2="12.7" stroke="#333" stroke-width="0.6"/>
<text x="201.6" y="15.2" font-size="7" text-anchor="end" fill="#111"  textLength="8.6" lengthAdjust="spacingAndGlyphs">40</text>
<text x="272.1" y="140.3" font-size="9" text-anchor="middle" fill="#111"  textLength="62" lengthAdjust="spacingAndGlyphs"><tspan font-style="italic">j</tspan>&#183;&#375; (10<tspan font-size="6" dy="-3">5</tspan><tspan dy="3">A/cm</tspan><tspan font-size="6" dy="-3">2</tspan><tspan dy="3">)</tspan></text>
<text transform="translate(184.8,61.6) rotate(-90)" font-size="9" text-anchor="middle" fill="#111" textLength="41" lengthAdjust="spacingAndGlyphs"><tspan font-style="italic">&#952;</tspan><tspan font-size="6" dy="1.8" font-style="italic">K</tspan><tspan dy="-1.8"> (nrad)</tspan></text>
<text x="183.5" y="7.6" font-size="8.5" text-anchor="middle" fill="#111"  textLength="10.5" lengthAdjust="spacingAndGlyphs">(b)</text>
<g class="cd">
<line x1="25" y1="265.04" x2="92.2" y2="265.04" stroke="#d2d2d2" stroke-width="0.7" stroke-dasharray="2.6,1.6"/>
<line x1="25" y1="243.47" x2="92.2" y2="243.47" stroke="#d2d2d2" stroke-width="0.7" stroke-dasharray="2.6,1.6"/>
<line x1="25" y1="221.91" x2="92.2" y2="221.91" stroke="#d2d2d2" stroke-width="0.7" stroke-dasharray="2.6,1.6"/>
<line x1="25" y1="200.34" x2="92.2" y2="200.34" stroke="#d2d2d2" stroke-width="0.7" stroke-dasharray="2.6,1.6"/>
<line x1="25" y1="178.78" x2="92.2" y2="178.78" stroke="#d2d2d2" stroke-width="0.7" stroke-dasharray="2.6,1.6"/>
<line x1="41.8" y1="157.21" x2="41.8" y2="286.6" stroke="#d2d2d2" stroke-width="0.7" stroke-dasharray="2.6,1.6"/>
<line x1="75.4" y1="157.21" x2="75.4" y2="286.6" stroke="#d2d2d2" stroke-width="0.7" stroke-dasharray="2.6,1.6"/>
<path d="M28.7,286.6 L29.58,285.52 L30.44,284.44 L31.27,283.37 L32.09,282.29 L32.88,281.21 L33.66,280.13 L34.41,279.05 L35.15,277.97 L35.87,276.9 L36.57,275.82 L37.26,274.74 L37.92,273.66 L38.58,272.58 L39.21,271.5 L39.83,270.43 L40.44,269.35 L41.04,268.27 L41.62,267.19 L42.18,266.11 L42.74,265.04 L43.28,263.96 L43.81,262.88 L44.33,261.8 L44.83,260.72 L45.33,259.64 L45.82,258.57 L46.29,257.49 L46.76,256.41 L47.22,255.33 L47.67,254.25 L48.11,253.17 L48.54,252.1 L48.97,251.02 L49.38,249.94 L49.8,248.86 L50.2,247.78 L50.6,246.7 L50.99,245.63 L51.37,244.55 L51.75,243.47 L52.13,242.39 L52.5,241.31 L52.86,240.24 L53.22,239.16 L53.58,238.08 L53.93,237 L54.28,235.92 L54.62,234.84 L54.96,233.77 L55.3,232.69 L55.64,231.61 L55.98,230.53 L56.31,229.45 L56.64,228.37 L56.97,227.3 L57.3,226.22 L57.62,225.14 L57.95,224.06 L58.27,222.98 L58.6,221.91 L58.6,221.91 L58.6,286.6Z" fill="#8a8ed2" fill-opacity="0.95" stroke="none"/>
<path d="M58.6,221.91 L58.95,220.83 L59.3,219.75 L59.64,218.67 L59.99,217.59 L60.34,216.51 L60.69,215.44 L61.05,214.36 L61.4,213.28 L61.76,212.2 L62.12,211.12 L62.48,210.04 L62.85,208.97 L63.21,207.89 L63.59,206.81 L63.96,205.73 L64.34,204.65 L64.73,203.57 L65.12,202.5 L65.51,201.42 L65.91,200.34 L66.31,199.26 L66.73,198.18 L67.14,197.11 L67.57,196.03 L68,194.95 L68.44,193.87 L68.88,192.79 L69.34,191.71 L69.8,190.64 L70.27,189.56 L70.75,188.48 L71.24,187.4 L71.74,186.32 L72.24,185.24 L72.76,184.17 L73.29,183.09 L73.84,182.01 L74.39,180.93 L74.96,179.85 L75.53,178.78 L76.12,177.7 L76.73,176.62 L77.35,175.54 L77.98,174.46 L78.63,173.38 L79.29,172.31 L79.97,171.23 L80.67,170.15 L81.38,169.07 L82.11,167.99 L82.86,166.91 L83.63,165.84 L84.42,164.76 L85.22,163.68 L86.05,162.6 L86.9,161.52 L87.77,160.44 L88.66,159.37 L89.58,158.29 L90.52,157.21 L58.6,157.21 L58.6,221.91Z" fill="#f29a9c" fill-opacity="0.95" stroke="none"/>
<path d="M28.7,286.6 L29.58,285.52 L30.44,284.44 L31.27,283.37 L32.09,282.29 L32.88,281.21 L33.66,280.13 L34.41,279.05 L35.15,277.97 L35.87,276.9 L36.57,275.82 L37.26,274.74 L37.92,273.66 L38.58,272.58 L39.21,271.5 L39.83,270.43 L40.44,269.35 L41.04,268.27 L41.62,267.19 L42.18,266.11 L42.74,265.04 L43.28,263.96 L43.81,262.88 L44.33,261.8 L44.83,260.72 L45.33,259.64 L45.82,258.57 L46.29,257.49 L46.76,256.41 L47.22,255.33 L47.67,254.25 L48.11,253.17 L48.54,252.1 L48.97,251.02 L49.38,249.94 L49.8,248.86 L50.2,247.78 L50.6,246.7 L50.99,245.63 L51.37,244.55 L51.75,243.47 L52.13,242.39 L52.5,241.31 L52.86,240.24 L53.22,239.16 L53.58,238.08 L53.93,237 L54.28,235.92 L54.62,234.84 L54.96,233.77 L55.3,232.69 L55.64,231.61 L55.98,230.53 L56.31,229.45 L56.64,228.37 L56.97,227.3 L57.3,226.22 L57.62,225.14 L57.95,224.06 L58.27,222.98 L58.6,221.91 L58.95,220.83 L59.3,219.75 L59.64,218.67 L59.99,217.59 L60.34,216.51 L60.69,215.44 L61.05,214.36 L61.4,213.28 L61.76,212.2 L62.12,211.12 L62.48,210.04 L62.85,208.97 L63.21,207.89 L63.59,206.81 L63.96,205.73 L64.34,204.65 L64.73,203.57 L65.12,202.5 L65.51,201.42 L65.91,200.34 L66.31,199.26 L66.73,198.18 L67.14,197.11 L67.57,196.03 L68,194.95 L68.44,193.87 L68.88,192.79 L69.34,191.71 L69.8,190.64 L70.27,189.56 L70.75,188.48 L71.24,187.4 L71.74,186.32 L72.24,185.24 L72.76,184.17 L73.29,183.09 L73.84,182.01 L74.39,180.93 L74.96,179.85 L75.53,178.78 L76.12,177.7 L76.73,176.62 L77.35,175.54 L77.98,174.46 L78.63,173.38 L79.29,172.31 L79.97,171.23 L80.67,170.15 L81.38,169.07 L82.11,167.99 L82.86,166.91 L83.63,165.84 L84.42,164.76 L85.22,163.68 L86.05,162.6 L86.9,161.52 L87.77,160.44 L88.66,159.37 L89.58,158.29 L90.52,157.21" fill="none" stroke="#333" stroke-width="0.8"/>
<path d="M58.6,286.6 L58.6,285.52 L58.61,284.44 L58.61,283.37 L58.62,282.29 L58.64,281.21 L58.65,280.13 L58.67,279.05 L58.69,277.97 L58.72,276.9 L58.74,275.82 L58.77,274.74 L58.81,273.66 L58.84,272.58 L58.88,271.5 L58.92,270.43 L58.97,269.35 L59.01,268.27 L59.07,267.19 L59.12,266.11 L59.18,265.04 L59.24,263.96 L59.3,262.88 L59.37,261.8 L59.44,260.72 L59.51,259.64 L59.58,258.57 L59.66,257.49 L59.75,256.41 L59.83,255.33 L59.92,254.25 L60.01,253.17 L60.11,252.1 L60.21,251.02 L60.31,249.94 L60.42,248.86 L60.53,247.78 L60.64,246.7 L60.76,245.63 L60.88,244.55 L61.01,243.47 L61.14,242.39 L61.27,241.31 L61.41,240.24 L61.55,239.16 L61.69,238.08 L61.84,237 L62,235.92 L62.16,234.84 L62.32,233.77 L62.48,232.69 L62.66,231.61 L62.83,230.53 L63.01,229.45 L63.2,228.37 L63.39,227.3 L63.58,226.22 L63.78,225.14 L63.99,224.06 L64.2,222.98 L64.42,221.91 L64.64,220.83 L64.86,219.75 L65.1,218.67 L65.33,217.59 L65.58,216.51 L65.83,215.44 L66.08,214.36 L66.34,213.28 L66.61,212.2 L66.89,211.12 L67.17,210.04 L67.45,208.97 L67.75,207.89 L68.05,206.81 L68.36,205.73 L68.67,204.65 L68.99,203.57 L69.32,202.5 L69.66,201.42 L70,200.34 L70.35,199.26 L70.71,198.18 L71.08,197.11 L71.46,196.03 L71.84,194.95 L72.24,193.87 L72.64,192.79 L73.05,191.71 L73.47,190.64 L73.9,189.56 L74.34,188.48 L74.79,187.4 L75.25,186.32 L75.72,185.24 L76.19,184.17 L76.68,183.09 L77.18,182.01 L77.69,180.93 L78.22,179.85 L78.75,178.78 L79.3,177.7 L79.85,176.62 L80.42,175.54 L81,174.46 L81.6,173.38 L82.2,172.31 L82.82,171.23 L83.46,170.15 L84.1,169.07 L84.76,167.99 L85.44,166.91 L86.13,165.84 L86.83,164.76 L87.55,163.68 L88.28,162.6 L89.03,161.52 L89.8,160.44 L90.58,159.37 L91.38,158.29 L92.2,157.21" fill="none" stroke="#2a8a3c" stroke-width="1.4" stroke-dasharray="3.4,2.2"/>
<line x1="25" y1="157.21" x2="92.2" y2="157.21" stroke="#888" stroke-width="1.0"/>
<line x1="92.2" y1="157.21" x2="92.2" y2="286.6" stroke="#999" stroke-width="1.0"/>
<line x1="25" y1="157.21" x2="25" y2="286.6" stroke="#bbb" stroke-width="1.0"/>
<line x1="25" y1="286.6" x2="92.2" y2="286.6" stroke="#888" stroke-width="1.0"/>
<text x="23.2" y="287.6" font-size="8" text-anchor="end" fill="#111"  textLength="4.15" lengthAdjust="spacingAndGlyphs">0</text>
<text x="23.2" y="267.94" font-size="8" text-anchor="end" fill="#111"  textLength="4.15" lengthAdjust="spacingAndGlyphs">5</text>
<text x="23.2" y="246.37" font-size="8" text-anchor="end" fill="#111"  textLength="8.6" lengthAdjust="spacingAndGlyphs">10</text>
<text x="23.2" y="224.81" font-size="8" text-anchor="end" fill="#111"  textLength="8.6" lengthAdjust="spacingAndGlyphs">15</text>
<text x="23.2" y="203.24" font-size="8" text-anchor="end" fill="#111"  textLength="8.6" lengthAdjust="spacingAndGlyphs">20</text>
<text x="23.2" y="181.68" font-size="8" text-anchor="end" fill="#111"  textLength="8.6" lengthAdjust="spacingAndGlyphs">25</text>
<text x="23.2" y="160.11" font-size="8" text-anchor="end" fill="#111"  textLength="8.6" lengthAdjust="spacingAndGlyphs">30</text>
<text x="22.7" y="294.4" font-size="7.8" text-anchor="middle" fill="#111"  textLength="9.55" lengthAdjust="spacingAndGlyphs">&#8722;1</text>
<text x="58.6" y="294.4" font-size="7.8" text-anchor="middle" fill="#111"  textLength="4.15" lengthAdjust="spacingAndGlyphs">0</text>
<text x="92.2" y="294.4" font-size="7.8" text-anchor="middle" fill="#111"  textLength="4.15" lengthAdjust="spacingAndGlyphs">1</text>
<text x="58.6" y="303.2" font-size="8.5" text-anchor="middle" fill="#111"  textLength="43.2" lengthAdjust="spacingAndGlyphs">Polarization</text>
<text transform="translate(8.2,218.5) rotate(-90)" font-size="8.5" text-anchor="middle" fill="#111" textLength="20" lengthAdjust="spacingAndGlyphs">z (nm)</text>
<text x="5.8" y="159.3" font-size="8.2" text-anchor="middle" fill="#111"  textLength="8.6" lengthAdjust="spacingAndGlyphs">(c)</text>
<line x1="130" y1="266.2" x2="340.8" y2="266.2" stroke="#a0a0a0" stroke-width="1.0"/>
<path d="M130,266.2 L131.02,266.19 L132.04,266.18 L133.05,266.15 L134.07,266.11 L135.09,266.06 L136.11,265.99 L137.12,265.92 L138.14,265.84 L139.16,265.75 L140.18,265.66 L141.19,265.55 L142.21,265.44 L143.23,265.32 L144.25,265.19 L145.26,265.06 L146.28,264.92 L147.3,264.77 L148.32,264.54 L149.33,264.23 L150.35,263.84 L151.37,263.38 L152.39,262.86 L153.4,262.28 L154.42,261.66 L155.44,261 L156.46,260.3 L157.47,259.58 L158.49,258.84 L159.51,258.1 L160.53,257.35 L161.55,256.6 L162.56,255.87 L163.58,255.16 L164.6,254.46 L165.62,253.71 L166.63,252.93 L167.65,252.12 L168.67,251.28 L169.69,250.43 L170.7,249.55 L171.72,248.67 L172.74,247.78 L173.76,246.89 L174.77,246 L175.79,245.12 L176.81,244.25 L177.83,243.4 L178.84,242.56 L179.86,241.76 L180.88,240.99 L181.9,240.23 L182.91,239.49 L183.93,238.77 L184.95,238.05 L185.97,237.34 L186.98,236.65 L188,235.95 L189.02,235.27 L190.04,234.58 L191.06,233.9 L192.07,233.21 L193.09,232.52 L194.11,231.83 L195.13,231.14 L196.14,230.43 L197.16,229.72 L198.18,229 L199.2,228.27 L200.21,227.53 L201.23,226.78 L202.25,226.04 L203.27,225.28 L204.28,224.53 L205.3,223.78 L206.32,223.02 L207.34,222.27 L208.35,221.52 L209.37,220.78 L210.39,220.04 L211.41,219.31 L212.42,218.59 L213.44,217.88 L214.46,217.18 L215.48,216.48 L216.49,215.78 L217.51,215.08 L218.53,214.38 L219.55,213.68 L220.57,212.98 L221.58,212.29 L222.6,211.61 L223.62,210.94 L224.64,210.27 L225.65,209.62 L226.67,208.99 L227.69,208.37 L228.71,207.77 L229.72,207.19 L230.74,206.63 L231.76,206.09 L232.78,205.56 L233.79,205.03 L234.81,204.51 L235.83,203.99 L236.85,203.49 L237.86,202.99 L238.88,202.5 L239.9,202.03 L240.92,201.57 L241.93,201.13 L242.95,200.71 L243.97,200.3 L244.99,199.92 L246.01,199.56 L247.02,199.22 L248.04,198.9 L249.06,198.61 L250.08,198.32 L251.09,198.03 L252.11,197.76 L253.13,197.48 L254.15,197.22 L255.16,196.97 L256.18,196.73 L257.2,196.5 L258.22,196.28 L259.23,196.07 L260.25,195.88 L261.27,195.7 L262.29,195.55 L263.3,195.4 L264.32,195.28 L265.34,195.17 L266.36,195.07 L267.37,194.98 L268.39,194.88 L269.41,194.78 L270.43,194.69 L271.44,194.61 L272.46,194.53 L273.48,194.45 L274.5,194.38 L275.52,194.32 L276.53,194.26 L277.55,194.22 L278.57,194.18 L279.59,194.15 L280.6,194.13 L281.62,194.12 L282.64,194.12 L283.66,194.12 L284.67,194.12 L285.69,194.12 L286.71,194.12 L287.73,194.12 L288.74,194.12 L289.76,194.12 L290.78,194.12 L291.8,194.12 L292.81,194.12 L293.83,194.12 L294.85,194.12 L295.87,194.12 L296.88,194.12 L297.9,194.12 L298.92,194.12 L299.94,194.12 L300.95,194.13 L301.97,194.14 L302.99,194.15 L304.01,194.16 L305.03,194.18 L306.04,194.2 L307.06,194.22 L308.08,194.24 L309.1,194.26 L310.11,194.28 L311.13,194.3 L312.15,194.33 L313.17,194.35 L314.18,194.37 L315.2,194.38 L316.22,194.4 L317.24,194.42 L318.25,194.44 L319.27,194.45 L320.29,194.47 L321.31,194.49 L322.32,194.5 L323.34,194.52 L324.36,194.54 L325.38,194.56 L326.39,194.57 L327.41,194.59 L328.43,194.61 L329.45,194.63 L330.46,194.64 L331.48,194.66 L332.5,194.68" fill="none" stroke="#1028e6" stroke-width="1.3"/>
<line x1="146.88" y1="278.44" x2="146.88" y2="258.86" stroke="#f23030" stroke-width="1.0"/>
<line x1="144.88" y1="278.44" x2="148.88" y2="278.44" stroke="#f23030" stroke-width="0.9"/>
<line x1="144.88" y1="258.86" x2="148.88" y2="258.86" stroke="#f23030" stroke-width="0.9"/>
<line x1="163.75" y1="261.17" x2="163.75" y2="250.7" stroke="#f23030" stroke-width="1.0"/>
<line x1="161.75" y1="261.17" x2="165.75" y2="261.17" stroke="#f23030" stroke-width="0.9"/>
<line x1="161.75" y1="250.7" x2="165.75" y2="250.7" stroke="#f23030" stroke-width="0.9"/>
<line x1="180.62" y1="245.12" x2="180.62" y2="235.19" stroke="#f23030" stroke-width="1.0"/>
<line x1="178.62" y1="245.12" x2="182.62" y2="245.12" stroke="#f23030" stroke-width="0.9"/>
<line x1="178.62" y1="235.19" x2="182.62" y2="235.19" stroke="#f23030" stroke-width="0.9"/>
<line x1="197.5" y1="235.19" x2="197.5" y2="223.77" stroke="#f23030" stroke-width="1.0"/>
<line x1="195.5" y1="235.19" x2="199.5" y2="235.19" stroke="#f23030" stroke-width="0.9"/>
<line x1="195.5" y1="223.77" x2="199.5" y2="223.77" stroke="#f23030" stroke-width="0.9"/>
<line x1="231.25" y1="211.39" x2="231.25" y2="196.98" stroke="#f23030" stroke-width="1.0"/>
<line x1="229.25" y1="211.39" x2="233.25" y2="211.39" stroke="#f23030" stroke-width="0.9"/>
<line x1="229.25" y1="196.98" x2="233.25" y2="196.98" stroke="#f23030" stroke-width="0.9"/>
<line x1="265" y1="216.15" x2="265" y2="164.88" stroke="#f23030" stroke-width="1.0"/>
<line x1="263" y1="216.15" x2="267" y2="216.15" stroke="#f23030" stroke-width="0.9"/>
<line x1="263" y1="164.88" x2="267" y2="164.88" stroke="#f23030" stroke-width="0.9"/>
<line x1="298.75" y1="209.08" x2="298.75" y2="191.94" stroke="#f23030" stroke-width="1.0"/>
<line x1="296.75" y1="209.08" x2="300.75" y2="209.08" stroke="#f23030" stroke-width="0.9"/>
<line x1="296.75" y1="191.94" x2="300.75" y2="191.94" stroke="#f23030" stroke-width="0.9"/>
<line x1="332.5" y1="197.25" x2="332.5" y2="177.26" stroke="#f23030" stroke-width="1.0"/>
<line x1="330.5" y1="197.25" x2="334.5" y2="197.25" stroke="#f23030" stroke-width="0.9"/>
<line x1="330.5" y1="177.26" x2="334.5" y2="177.26" stroke="#f23030" stroke-width="0.9"/>
<circle cx="146.88" cy="268.65" r="2.3" fill="#e80000" stroke="#300" stroke-width="0.7"/>
<circle cx="163.75" cy="255.86" r="2.3" fill="#e80000" stroke="#300" stroke-width="0.7"/>
<circle cx="180.62" cy="240.22" r="2.3" fill="#e80000" stroke="#300" stroke-width="0.7"/>
<circle cx="197.5" cy="229.75" r="2.3" fill="#e80000" stroke="#300" stroke-width="0.7"/>
<circle cx="231.25" cy="204.18" r="2.3" fill="#e80000" stroke="#300" stroke-width="0.7"/>
<circle cx="265" cy="190.58" r="2.3" fill="#e80000" stroke="#300" stroke-width="0.7"/>
<circle cx="298.75" cy="200.78" r="2.3" fill="#e80000" stroke="#300" stroke-width="0.7"/>
<circle cx="332.5" cy="187.18" r="2.3" fill="#e80000" stroke="#300" stroke-width="0.7"/>
<rect x="130" y="157.3" width="210.8" height="128.7" fill="none" stroke="#666" stroke-width="1.3"/>
<line x1="130" y1="286" x2="130" y2="284" stroke="#333" stroke-width="0.6"/>
<line x1="130" y1="157.3" x2="130" y2="159.3" stroke="#333" stroke-width="0.6"/>
<text x="130" y="293.8" font-size="8" text-anchor="middle" fill="#111"  textLength="4.15" lengthAdjust="spacingAndGlyphs">0</text>
<line x1="163.75" y1="286" x2="163.75" y2="284" stroke="#333" stroke-width="0.6"/>
<line x1="163.75" y1="157.3" x2="163.75" y2="159.3" stroke="#333" stroke-width="0.6"/>
<text x="163.75" y="293.8" font-size="8" text-anchor="middle" fill="#111"  textLength="8.6" lengthAdjust="spacingAndGlyphs">10</text>
<line x1="197.5" y1="286" x2="197.5" y2="284" stroke="#333" stroke-width="0.6"/>
<line x1="197.5" y1="157.3" x2="197.5" y2="159.3" stroke="#333" stroke-width="0.6"/>
<text x="197.5" y="293.8" font-size="8" text-anchor="middle" fill="#111"  textLength="8.6" lengthAdjust="spacingAndGlyphs">20</text>
<line x1="231.25" y1="286" x2="231.25" y2="284" stroke="#333" stroke-width="0.6"/>
<line x1="231.25" y1="157.3" x2="231.25" y2="159.3" stroke="#333" stroke-width="0.6"/>
<text x="231.25" y="293.8" font-size="8" text-anchor="middle" fill="#111"  textLength="8.6" lengthAdjust="spacingAndGlyphs">30</text>
<line x1="265" y1="286" x2="265" y2="284" stroke="#333" stroke-width="0.6"/>
<line x1="265" y1="157.3" x2="265" y2="159.3" stroke="#333" stroke-width="0.6"/>
<text x="265" y="293.8" font-size="8" text-anchor="middle" fill="#111"  textLength="8.6" lengthAdjust="spacingAndGlyphs">40</text>
<line x1="298.75" y1="286" x2="298.75" y2="284" stroke="#333" stroke-width="0.6"/>
<line x1="298.75" y1="157.3" x2="298.75" y2="159.3" stroke="#333" stroke-width="0.6"/>
<text x="298.75" y="293.8" font-size="8" text-anchor="middle" fill="#111"  textLength="8.6" lengthAdjust="spacingAndGlyphs">50</text>
<line x1="332.5" y1="286" x2="332.5" y2="284" stroke="#333" stroke-width="0.6"/>
<line x1="332.5" y1="157.3" x2="332.5" y2="159.3" stroke="#333" stroke-width="0.6"/>
<text x="332.5" y="293.8" font-size="8" text-anchor="middle" fill="#111"  textLength="8.6" lengthAdjust="spacingAndGlyphs">60</text>
<line x1="130" y1="266.2" x2="132" y2="266.2" stroke="#333" stroke-width="0.6"/>
<line x1="340.8" y1="266.2" x2="338.8" y2="266.2" stroke="#333" stroke-width="0.6"/>
<text x="128.1" y="269" font-size="8" text-anchor="end" fill="#111"  textLength="4.15" lengthAdjust="spacingAndGlyphs">0</text>
<line x1="130" y1="239" x2="132" y2="239" stroke="#333" stroke-width="0.6"/>
<line x1="340.8" y1="239" x2="338.8" y2="239" stroke="#333" stroke-width="0.6"/>
<text x="128.1" y="241.8" font-size="8" text-anchor="end" fill="#111"  textLength="8.6" lengthAdjust="spacingAndGlyphs">20</text>
<line x1="130" y1="211.8" x2="132" y2="211.8" stroke="#333" stroke-width="0.6"/>
<line x1="340.8" y1="211.8" x2="338.8" y2="211.8" stroke="#333" stroke-width="0.6"/>
<text x="128.1" y="214.6" font-size="8" text-anchor="end" fill="#111"  textLength="8.6" lengthAdjust="spacingAndGlyphs">40</text>
<line x1="130" y1="184.6" x2="132" y2="184.6" stroke="#333" stroke-width="0.6"/>
<line x1="340.8" y1="184.6" x2="338.8" y2="184.6" stroke="#333" stroke-width="0.6"/>
<text x="128.1" y="187.4" font-size="8" text-anchor="end" fill="#111"  textLength="8.6" lengthAdjust="spacingAndGlyphs">60</text>
<line x1="130" y1="157.4" x2="132" y2="157.4" stroke="#333" stroke-width="0.6"/>
<line x1="340.8" y1="157.4" x2="338.8" y2="157.4" stroke="#333" stroke-width="0.6"/>
<text x="128.1" y="160.2" font-size="8" text-anchor="end" fill="#111"  textLength="8.6" lengthAdjust="spacingAndGlyphs">80</text>
<line x1="142.7" y1="162.8" x2="142.7" y2="169.7" stroke="#f23030" stroke-width="1.0"/>
<line x1="140.7" y1="162.8" x2="144.7" y2="162.8" stroke="#f23030" stroke-width="0.9"/>
<line x1="140.7" y1="169.7" x2="144.7" y2="169.7" stroke="#f23030" stroke-width="0.9"/>
<circle cx="142.7" cy="166.3" r="2.3" fill="#e80000" stroke="#300" stroke-width="0.7"/>
<text x="155.2" y="169.3" font-size="8" text-anchor="start" fill="#111"  textLength="38.5" lengthAdjust="spacingAndGlyphs">experiment</text>
<line x1="136.5" y1="180" x2="148.4" y2="180" stroke="#1028e6" stroke-width="1.4"/>
<text x="155.2" y="182.2" font-size="8" text-anchor="start" fill="#111"  textLength="7" lengthAdjust="spacingAndGlyphs">fit</text>
<text x="235.4" y="303.2" font-size="8.5" text-anchor="middle" fill="#111"  textLength="69" lengthAdjust="spacingAndGlyphs">Pt thickness (nm)</text>
<text transform="translate(116.4,221) rotate(-90)" font-size="8" text-anchor="middle" fill="#111" textLength="77" lengthAdjust="spacingAndGlyphs"><tspan font-style="italic">&#952;</tspan><tspan font-size="5" dy="1.5" font-style="italic">K</tspan><tspan dy="-1.5"> (nrad / 10</tspan><tspan font-size="5" dy="-2.8">7</tspan><tspan dy="2.8"> A cm</tspan><tspan font-size="5" dy="-2.8">&#8722;2</tspan><tspan dy="2.8">)</tspan></text>
<text x="110.1" y="159.3" font-size="8.2" text-anchor="middle" fill="#111"  textLength="10.3" lengthAdjust="spacingAndGlyphs">(d)</text>
</g>
</svg></body></html>
